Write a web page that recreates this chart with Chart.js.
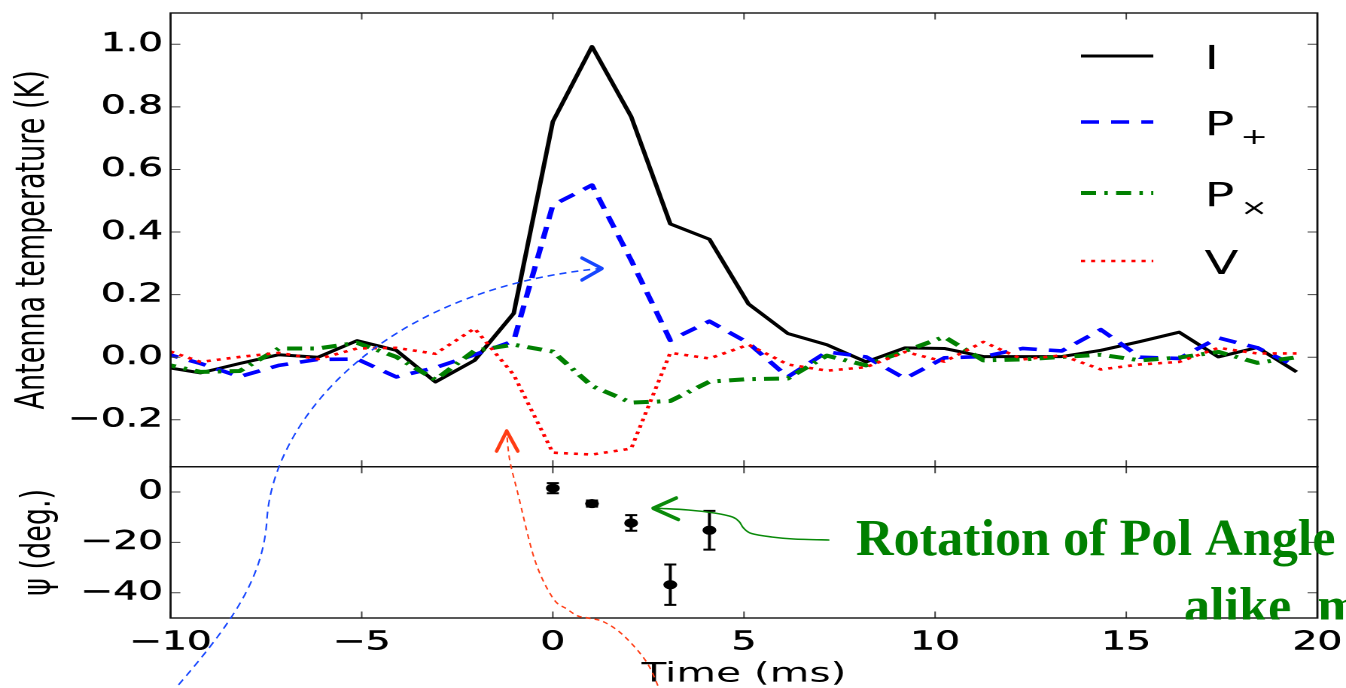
<!DOCTYPE html>
<html>
<head>
<meta charset="utf-8">
<script src="https://cdn.jsdelivr.net/npm/chart.js@4.4.1/dist/chart.umd.min.js"></script>
<style>
  html, body { margin: 0; padding: 0; background: #fff; overflow: hidden; }
  #wrap {
    position: absolute; left: 0; top: 0;
    width: 897px; height: 688px;
    transform: scaleX(1.505574); transform-origin: 0 0;
  }
</style>
</head>
<body>
<div id="wrap"><canvas id="c"></canvas></div>
<script>
// ---- data: 1.024 ms samples around the burst ----
const timeMs = [-10.24, -9.216, -8.192, -7.168, -6.144, -5.12, -4.096, -3.072, -2.048, -1.024,
                0, 1.024, 2.048, 3.072, 4.096, 5.12, 6.144, 7.168, 8.192, 9.216,
                10.24, 11.264, 12.288, 13.312, 14.336, 15.36, 16.384, 17.408, 18.432, 19.456];
const stokesI = [-0.03, -0.05, -0.02, 0.008, 0.0, 0.053, 0.022, -0.079, -0.01, 0.14,
                 0.753, 0.993, 0.769, 0.426, 0.377, 0.17, 0.076, 0.04, -0.015, 0.03,
                 0.028, 0.002, 0.002, 0.002, 0.022, 0.05, 0.08, 0.001, 0.031, -0.047];
const pPlus   = [0.015, -0.02, -0.062, -0.026, -0.007, -0.006, -0.063, -0.033, 0.008, 0.052,
                 0.486, 0.55, 0.31, 0.054, 0.115, 0.045, -0.063, 0.017, 0.001, -0.068,
                 -0.002, 0.002, 0.028, 0.02, 0.088, 0.0, -0.004, 0.062, 0.03, -0.03];
const pCross  = [-0.02, -0.047, -0.044, 0.028, 0.028, 0.046, 0.001, -0.072, 0.021, 0.04,
                 0.018, -0.092, -0.145, -0.14, -0.078, -0.07, -0.068, 0.005, -0.026, 0.02,
                 0.065, -0.01, -0.007, 0.001, 0.008, -0.01, -0.001, 0.017, -0.018, 0.0];
const stokesV = [0.028, -0.015, 0.001, 0.014, -0.006, 0.028, 0.03, 0.011, 0.092, -0.056,
                 -0.305, -0.311, -0.292, 0.014, -0.004, 0.04, -0.023, -0.043, -0.032, 0.017,
                 -0.014, 0.049, -0.007, 0.006, -0.039, -0.023, -0.015, 0.03, 0.012, 0.012];

// polarisation position angle with 1-sigma errors
const psiTime = [0, 1.024, 2.048, 3.072, 4.096];
const psiDeg  = [1.5, -4.6, -12.3, -36.8, -15.2];
const psiErr  = [2.0, 1.2, 3.1, 8.0, 7.7];

// tick values
const timeTicks = [-10, -5, 0, 5, 10, 15, 20];
const tempTicks = [-0.2, 0.0, 0.2, 0.4, 0.6, 0.8, 1.0];
const psiTicks  = [-40, -20, 0];

const seriesNames = ['I', 'P', 'P', 'V'];
const seriesSubs  = ['', '+', '\u00d7', ''];

// ---- drawing setup ----
const SX = 1346 / 897;           // horizontal stretch of the plot canvas
const FONT = '"DejaVu Sans", "Bitstream Vera Sans", sans-serif';
Chart.defaults.font.family = FONT;
Chart.defaults.color = '#000';

const minus = s => String(s).replace('-', '\u2212');
const pts = (xs, ys) => xs.map((x, i) => ({ x: x, y: ys[i] }));

const lineStyles = [
  { color: '#000000', width: 3.0, dash: [] },
  { color: '#0000ff', width: 3.6, dash: [12, 8] },
  { color: '#008000', width: 4.0, dash: [10, 5.5, 2.3, 5.5] },
  { color: '#ff0000', width: 2.6, dash: [2.7, 4] }
];
const seriesData = [stokesI, pPlus, pCross, stokesV];

const datasets = seriesData.map((vals, i) => ({
  label: seriesNames[i] + seriesSubs[i],
  data: pts(timeMs, vals),
  yAxisID: 'yT',
  borderColor: lineStyles[i].color,
  borderWidth: lineStyles[i].width,
  borderDash: lineStyles[i].dash,
  borderJoinStyle: 'round',
  borderCapStyle: 'butt',
  pointRadius: 0,
  tension: 0,
  fill: false,
  order: 4 - i
}));
datasets.push({
  type: 'scatter',
  label: 'psi',
  data: pts(psiTime, psiDeg),
  yAxisID: 'yP',
  pointRadius: 4.6,
  pointBackgroundColor: '#000',
  pointBorderColor: '#000',
  pointBorderWidth: 0,
  showLine: false,
  order: 0
});

// smooth curve through a list of points (Catmull-Rom)
function smoothPath(ctx, p) {
  ctx.beginPath();
  ctx.moveTo(p[0][0], p[0][1]);
  for (let i = 0; i < p.length - 1; i++) {
    const p0 = p[Math.max(i - 1, 0)], p1 = p[i], p2 = p[i + 1], p3 = p[Math.min(i + 2, p.length - 1)];
    ctx.bezierCurveTo(p1[0] + (p2[0] - p0[0]) / 6, p1[1] + (p2[1] - p0[1]) / 6,
                      p2[0] - (p3[0] - p1[0]) / 6, p2[1] - (p3[1] - p1[1]) / 6,
                      p2[0], p2[1]);
  }
  ctx.stroke();
}
function openHead(ctx, a, tip, b, color, w) {
  ctx.setLineDash([]);
  ctx.strokeStyle = color;
  ctx.lineWidth = w;
  ctx.lineCap = 'round';
  ctx.lineJoin = 'round';
  ctx.beginPath();
  ctx.moveTo(a[0], a[1]); ctx.lineTo(tip[0], tip[1]); ctx.lineTo(b[0], b[1]);
  ctx.stroke();
}

const framePlugin = {
  id: 'frame',
  beforeDatasetsDraw(chart) {
    // error bars on the position angle
    const ctx = chart.ctx, x = chart.scales.x, y = chart.scales.yP;
    ctx.save();
    ctx.strokeStyle = '#000';
    ctx.lineWidth = 2;
    psiTime.forEach((t, i) => {
      const px = x.getPixelForValue(t);
      const hi = y.getPixelForValue(psiDeg[i] + psiErr[i]);
      const lo = y.getPixelForValue(psiDeg[i] - psiErr[i]);
      ctx.beginPath();
      ctx.moveTo(px, hi); ctx.lineTo(px, lo);
      ctx.moveTo(px - 4, hi); ctx.lineTo(px + 4, hi);
      ctx.moveTo(px - 4, lo); ctx.lineTo(px + 4, lo);
      ctx.stroke();
    });
    ctx.restore();
  },
  afterDatasetsDraw(chart) {
    const ctx = chart.ctx, a = chart.chartArea, x = chart.scales.x;
    const panels = [chart.scales.yT, chart.scales.yP];
    const L = 6.5;
    ctx.save();
    // tick marks pointing inwards on all four sides of both panels
    ctx.strokeStyle = '#444';
    ctx.lineWidth = 1;
    panels.forEach(p => {
      x.ticks.forEach(t => {
        const px = x.getPixelForValue(t.value);
        ctx.beginPath();
        ctx.moveTo(px, p.top); ctx.lineTo(px, p.top + L);
        ctx.moveTo(px, p.bottom); ctx.lineTo(px, p.bottom - L);
        ctx.stroke();
      });
      p.ticks.forEach(t => {
        const py = p.getPixelForValue(t.value);
        ctx.beginPath();
        ctx.moveTo(a.left, py); ctx.lineTo(a.left + L, py);
        ctx.moveTo(a.right, py); ctx.lineTo(a.right - L, py);
        ctx.stroke();
      });
    });
    // panel frames
    ctx.strokeStyle = '#111';
    ctx.lineWidth = 1.4;
    panels.forEach(p => ctx.strokeRect(a.left, p.top, a.right - a.left, p.bottom - p.top));

    // legend
    const rows = [56, 122, 193, 261];
    const lx0 = 718, lx1 = 766, tx = 800;
    rows.forEach((ly, i) => {
      const st = lineStyles[i];
      ctx.strokeStyle = st.color;
      ctx.lineWidth = st.width;
      ctx.setLineDash(st.dash);
      ctx.lineCap = 'butt';
      ctx.beginPath(); ctx.moveTo(lx0, ly); ctx.lineTo(lx1, ly); ctx.stroke();
      ctx.setLineDash([]);
      ctx.fillStyle = '#000';
      ctx.font = '33px ' + FONT;
      ctx.textAlign = 'left';
      ctx.textBaseline = 'alphabetic';
      ctx.fillText(seriesNames[i], tx, ly + 13);
      if (seriesSubs[i]) {
        ctx.font = '22px ' + FONT;
        ctx.textAlign = 'center';
        ctx.fillText(seriesSubs[i], 833, ly + 22);
      }
    });
    ctx.restore();
  },
  afterDraw(chart) {
    // hand-drawn callouts laid over the plot, in screen pixels
    const ctx = chart.ctx;
    ctx.save();
    ctx.scale(1 / SX, 1);
    ctx.lineCap = 'butt';

    // blue: towards the linear polarisation peak
    ctx.strokeStyle = '#1646ff';
    ctx.lineWidth = 1.6;
    ctx.setLineDash([7, 5]);
    ctx.beginPath();
    ctx.moveTo(170, 694);
    ctx.bezierCurveTo(230, 625, 262, 580, 266, 520);
    ctx.bezierCurveTo(272, 420, 380, 290, 598, 268.5);
    ctx.stroke();
    openHead(ctx, [580, 258], [600, 268.5], [580, 280], '#1646ff', 3.4);

    // red: towards the circular polarisation dip
    ctx.strokeStyle = '#ff3c14';
    ctx.lineWidth = 1.5;
    ctx.setLineDash([5, 4]);
    ctx.lineCap = 'butt';
    smoothPath(ctx, [[659, 694], [645, 663], [622, 636], [602, 622], [586, 618], [576, 616],
                     [565, 609], [551, 598], [533, 560], [516, 493], [508, 460], [505, 433]]);
    openHead(ctx, [495, 451], [505, 431], [516, 451], '#ff3c14', 3.6);

    // green: towards the position-angle swing
    ctx.strokeStyle = '#0a8a0a';
    ctx.lineWidth = 1.6;
    ctx.setLineDash([]);
    smoothPath(ctx, [[826, 540], [791, 539], [769, 537], [749, 533.5], [741, 528], [737, 522],
                     [730, 517], [712, 513], [686, 510], [660, 508.5], [653, 508.3]]);
    openHead(ctx, [674, 498], [651, 508.3], [676, 519.5], '#0a8a0a', 3.6);

    ctx.fillStyle = '#008000';
    ctx.font = 'bold 52px "Liberation Serif", "Times New Roman", serif';
    ctx.textAlign = 'left';
    ctx.textBaseline = 'alphabetic';
    ctx.fillText('Rotation of Pol Angle', 853, 555);
    ctx.beginPath();
    ctx.rect(0, 0, 1346, 619.5);
    ctx.clip();
    ctx.fillText('alike  m', 1180, 623);
    ctx.restore();
  }
};

const leftWidth = 170 / SX;
const noEdgePad = s => { s.paddingTop = 0; s.paddingBottom = 0; };
const tickFont = { autoSkip: false, font: { size: 26 }, color: '#000',
                   textStrokeColor: '#000', textStrokeWidth: 0.5 };

new Chart(document.getElementById('c'), {
  type: 'line',
  data: { datasets: datasets },
  plugins: [framePlugin],
  options: {
    responsive: true,
    maintainAspectRatio: false,
    devicePixelRatio: 2,
    animation: false,
    events: [],
    layout: { padding: { left: 0, right: 897 - 1313 / SX, top: 13, bottom: 0 } },
    plugins: { legend: { display: false }, tooltip: { enabled: false } },
    scales: {
      x: {
        type: 'linear',
        min: -10, max: 20,
        afterBuildTicks: s => { s.ticks = timeTicks.map(v => ({ value: v })); },
        afterFit: s => { s.height = 70; s.paddingLeft = 0; s.paddingRight = 0; },
        grid: { display: false, drawTicks: false },
        border: { display: false },
        ticks: Object.assign({ maxRotation: 0, padding: 9, callback: v => minus(v) }, tickFont),
        title: { display: true, text: 'Time (ms)', font: { size: 27, lineHeight: 1.0 }, color: '#000',
                 padding: { top: 0, bottom: 0 } }
      },
      // lower panel first: the last left-hand axis in a stack is placed on top
      yP: {
        type: 'linear',
        position: 'left',
        stack: 'panels',
        stackWeight: 1,
        min: -50, max: 10,
        afterBuildTicks: s => { s.ticks = psiTicks.map(v => ({ value: v })); },
        afterFit: s => { s.width = leftWidth; noEdgePad(s); },
        grid: { display: false, drawTicks: false },
        border: { display: false },
        ticks: Object.assign({ padding: 5, callback: v => minus(v) }, tickFont),
        title: { display: true, text: '\u03c8 (deg.)', font: { size: 27 }, color: '#000',
                 padding: { top: 10, bottom: 0 } }
      },
      yT: {
        type: 'linear',
        position: 'left',
        stack: 'panels',
        stackWeight: 3,
        min: -0.35, max: 1.1,
        afterBuildTicks: s => { s.ticks = tempTicks.map(v => ({ value: v })); },
        afterFit: s => { s.width = leftWidth; noEdgePad(s); },
        grid: { display: false, drawTicks: false },
        border: { display: false },
        ticks: Object.assign({ padding: 5, callback: v => minus(v.toFixed(1)) }, tickFont),
        title: { display: true, text: 'Antenna temperature (K)', font: { size: 27 }, color: '#000',
                 padding: { top: 6, bottom: 0 } }
      }
    }
  }
});
</script>
</body>
</html>
